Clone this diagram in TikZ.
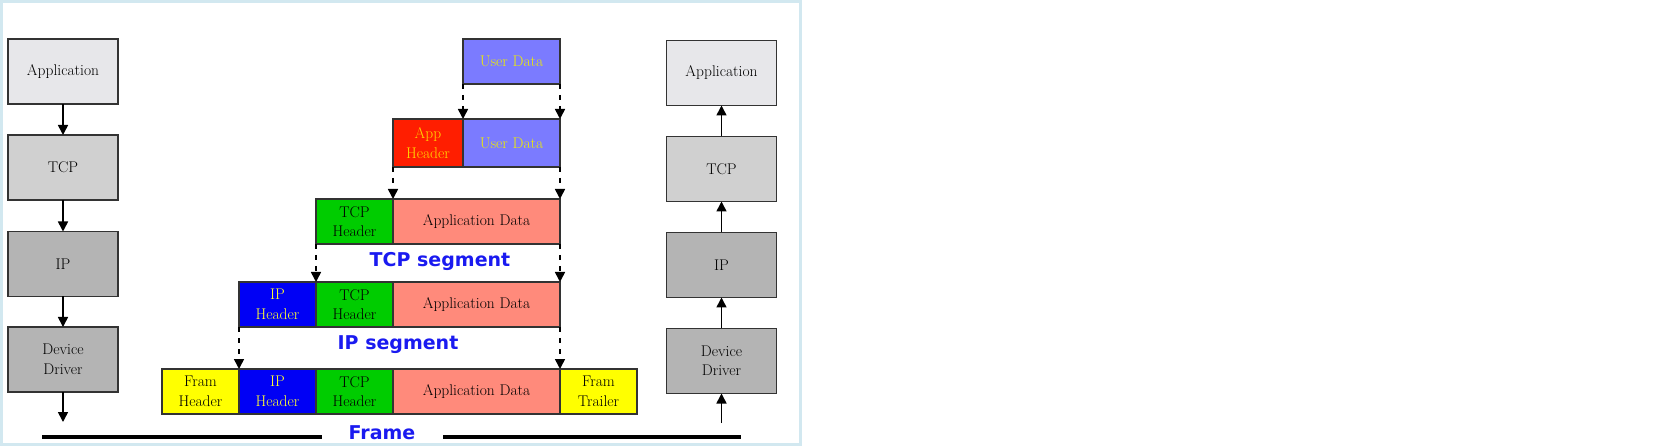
\documentclass[tikz,border=0pt]{standalone}
\usepackage{fontspec}
\newfontfamily\lblfont{DejaVu Sans}
\usetikzlibrary{positioning,arrows.meta}
\definecolor{appgray}{HTML}{E7E7EA}
\definecolor{tcpgray}{HTML}{D0D0D0}
\definecolor{ipgray}{HTML}{B4B4B4}
\definecolor{userblue}{HTML}{7B7BFF}
\definecolor{userylw}{HTML}{EEEE00}
\definecolor{appred}{HTML}{FF1E00}
\definecolor{appylw}{HTML}{FFD700}
\definecolor{tcpgreen}{HTML}{00CC00}
\definecolor{datasalmon}{HTML}{FF8A7B}
\definecolor{ipblue}{HTML}{0000F5}
\definecolor{ipylw}{HTML}{FFFF30}
\definecolor{framylw}{HTML}{FFFF00}
\definecolor{lblblue}{HTML}{1A1AF0}
\definecolor{brdblue}{HTML}{D2E8F0}

\begin{document}
\begin{tikzpicture}
[x=1pt,y=-1pt,>={Triangle[width=10pt,length=10pt]},%
  every node/.style={inner sep=0pt,outer sep=0pt},
  layer/.style={draw=black!80,line width=1.5pt,minimum width=110pt,minimum height=65pt,align=center},
  seg/.style={draw=black!80,line width=1.5pt,minimum height=45pt,align=center},
  hdr/.style={seg,minimum width=77pt},
  link/.style={->,line width=1.6pt},
  drop/.style={->,line width=1.6pt,dash pattern=on 5pt off 6pt},
  lbl/.style={font=\lblfont\bfseries\fontsize{19}{22}\selectfont,text=lblblue}]
\fontsize{15.5}{19.5}\selectfont
\useasboundingbox (0,0) rectangle (1668,446);
\draw[brdblue,line width=3pt] (1.5,1.5) rectangle (800.5,444.5);
\node[layer,fill=appgray] (lapp) at (63,71.5) {Application};
\node[layer,fill=tcpgray] (ltcp) at (63,167.5) {TCP};
\node[layer,fill=ipgray] (lip) at (63,264) {IP};
\node[layer,fill=ipgray] (ldev) at (63,359.5) {Device\\Driver};
\coordinate (lout) at (63,422);
\node[layer,fill=appgray] (rapp) at (721.5,73) {Application};
\node[layer,fill=tcpgray] (rtcp) at (721.5,169) {TCP};
\node[layer,fill=ipgray] (rip) at (721.5,265) {IP};
\node[layer,fill=ipgray] (rdev) at (721.5,361) {Device\\Driver};
\coordinate (rin) at (721.5,423);
\node[seg,minimum width=97pt,fill=userblue,text=userylw,anchor=north west] (user1) at (463,39) {User Data};
\node[seg,minimum width=70pt,minimum height=48pt,fill=appred,text=appylw,anchor=north west] (apph2) at (393,119) {App\\Header};
\node[seg,minimum width=97pt,minimum height=48pt,fill=userblue,text=userylw,right=0pt of apph2] (user2) {User Data};
\node[hdr,fill=tcpgreen,anchor=north west] (tcph3) at (316,199) {TCP\\Header};
\node[seg,minimum width=167pt,fill=datasalmon,right=0pt of tcph3] (data3) {Application Data};
\node[hdr,fill=ipblue,text=ipylw,anchor=north west] (iph4) at (239,282) {IP\\Header};
\node[hdr,fill=tcpgreen,right=0pt of iph4] (tcph4) {TCP\\Header};
\node[seg,minimum width=167pt,fill=datasalmon,right=0pt of tcph4] (data4) {Application Data};
\node[hdr,fill=framylw,anchor=north west] (framh5) at (162,369) {Fram\\Header};
\node[hdr,fill=ipblue,text=ipylw,right=0pt of framh5] (iph5) {IP\\Header};
\node[hdr,fill=tcpgreen,right=0pt of iph5] (tcph5) {TCP\\Header};
\node[seg,minimum width=167pt,fill=datasalmon,right=0pt of tcph5] (data5) {Application Data};
\node[hdr,fill=framylw,right=0pt of data5] (framt5) {Fram\\Trailer};
\node[lbl] (tcpseg) at (440,262) {TCP segment};
\node[lbl] (ipseg) at (398,345) {IP segment};
\node[lbl] (frame) at (382,433) {Frame};
\coordinate (busl) at (42,437);
\coordinate (busm) at (322,437);
\coordinate (busn) at (443,437);
\coordinate (busr) at (741,437);
\draw[line width=4pt] (busl) -- (busm);
\draw[line width=4pt] (busn) -- (busr);
\draw[link] (lapp) -- (ltcp);
\draw[link] (ltcp) -- (lip);
\draw[link] (lip) -- (ldev);
\draw[link] (ldev) -- (lout);
\draw[link] (rin) -- (rdev);
\draw[link] (rdev) -- (rip);
\draw[link] (rip) -- (rtcp);
\draw[link] (rtcp) -- (rapp);
\draw[drop] (user1.south west) -- (user2.north west);
\draw[drop] (user1.south east) -- (user2.north east);
\draw[drop] (apph2.south west) -- (data3.north west);
\draw[drop] (user2.south east) -- (data3.north east);
\draw[drop] (tcph3.south west) -- (tcph4.north west);
\draw[drop] (data3.south east) -- (data4.north east);
\draw[drop] (iph4.south west) -- (iph5.north west);
\draw[drop] (data4.south east) -- (data5.north east);
\end{tikzpicture}
\end{document}
